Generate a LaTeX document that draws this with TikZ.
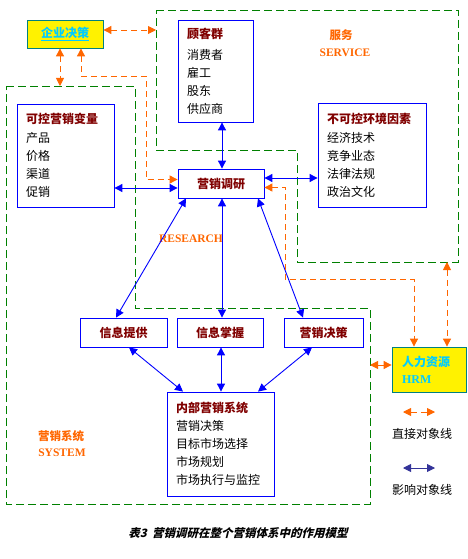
\documentclass[tikz,border=0pt]{standalone}
\usepackage{fontspec}
\setmainfont{Noto Sans CJK SC}
\newfontfamily\latinfont{Liberation Serif}
\newfontfamily\captionfont[FakeSlant=0.25]{Noto Sans CJK SC}
\usetikzlibrary{positioning,arrows.meta}
\definecolor{sysgreen}{HTML}{008000}
\definecolor{linkblue}{HTML}{0000FF}
\definecolor{directorange}{HTML}{FF6600}
\definecolor{titlered}{HTML}{800000}
\definecolor{hrcyan}{HTML}{00CCFF}
\definecolor{hrteal}{HTML}{008080}
\definecolor{legendblue}{HTML}{333399}
\newcommand\boxtitle[1]{\textcolor{titlered}{\bfseries #1}}

\begin{document}
\begin{tikzpicture}[x=1pt, y=-1pt,
    every node/.style={font=\fontsize{12}{18}\selectfont},
    listbox/.style={draw=linkblue, line width=0.8pt, inner xsep=9pt, inner ysep=0pt, align=left},
    namebox/.style={draw=linkblue, line width=0.8pt, inner sep=0pt, minimum height=29pt,
      text=titlered, font=\fontsize{12}{14}\selectfont\bfseries},
    yellowbox/.style={draw=hrteal, fill=yellow, line width=0.8pt, inner sep=0pt, text=hrcyan},
    region/.style={draw=sysgreen, line width=0.9pt, dash pattern=on 8pt off 4pt},
    influence/.style={linkblue, line width=0.9pt,
      {Triangle[length=8pt,width=8pt]}-{Triangle[length=8pt,width=8pt]}},
    direct/.style={directorange, line width=0.9pt, dash pattern=on 6pt off 4pt,
      {Triangle[length=8pt,width=8pt]}-{Triangle[length=8pt,width=8pt]}},
    areatext/.style={text=directorange, font=\fontsize{11.5}{13}\selectfont\bfseries}]
  \useasboundingbox (0,0) rectangle (467,559);

  % areas
  \draw[region] (156,10) -- (458,10) -- (458,262) -- (297,262) -- (297,150) -- (156,150) -- cycle;
  \draw[region] (6,86) -- (135,86) -- (135,308) -- (370,308) -- (370,504) -- (6,504) -- cycle;
  \coordinate (servleft) at (156,30);
  \coordinate (servbottom) at (447,262);
  \coordinate (systop) at (60,86);
  \coordinate (sysright) at (370,365);

  \node[yellowbox, minimum width=76pt, minimum height=28pt, font=\fontsize{12}{14}\selectfont\bfseries]
    (decision) at (65,34) {\underline{企业决策}};
  \node[listbox, text width=57pt, minimum height=102pt] (customers) at (215.5,71)
    {\boxtitle{顾客群}\\[3pt]消费者\\雇工\\股东\\供应商};
  \node[listbox, text width=90pt, minimum height=104pt] (environment) at (372,155)
    {\boxtitle{不可控环境因素}\\[1pt]经济技术\\竞争业态\\法律法规\\政治文化};
  \node[listbox, text width=79pt, minimum height=103pt] (variables) at (65.5,155.5)
    {\boxtitle{可控营销变量}\\[1pt]产品\\价格\\渠道\\促销};
  \node[namebox, minimum width=86pt] (research) at (221,183.5) {营销调研};
  \node[namebox, minimum width=87pt] (supply) at (123.5,332.5) {信息提供};
  \node[namebox, minimum width=86pt] (grasp) at (220,332.5) {信息掌握};
  \node[namebox, minimum width=79pt] (choice) at (323.5,332.5) {营销决策};
  \node[listbox, text width=89pt, minimum height=104pt] (internal) at (220.5,444)
    {\boxtitle{内部营销系统}\\营销决策\\目标市场选择\\市场规划\\市场执行与监控};
  \node[yellowbox, text width=54pt, inner xsep=10pt, minimum height=45pt, align=left,
    font=\fontsize{12}{17}\selectfont\bfseries] (hrm) at (429,369.5)
    {人力资源\\{\latinfont HRM}};

  \node[areatext] (service) at (341,35) {服务};
  \node[areatext] (serviceen) at (345,53) {\latinfont SERVICE};
  \node[areatext] (researchen) at (191,239) {\latinfont RESEARCH};
  \node[areatext] (system) at (61,436) {营销系统};
  \node[areatext] (systemen) at (62,453) {\latinfont SYSTEM};

  % influence
  \draw[influence] (research.north -| 222,0) -- (customers.south -| 222,0);
  \draw[influence] (variables.east |- 0,188) -- (research.west |- 0,188);
  \draw[influence] (research.east |- 0,178) -- (environment.west |- 0,178);
  \draw[influence] ([xshift=-35pt]research.south) -- ([xshift=-7.5pt]supply.north);
  \draw[influence] (research.south -| 222,0) -- (grasp.north -| 222,0);
  \draw[influence] ([xshift=37pt]research.south) -- ([xshift=-20.5pt]choice.north);
  \draw[influence] ([xshift=5.5pt]supply.south) -- ([xshift=-37.5pt]internal.north);
  \draw[influence] (grasp.south -| 221,0) -- (internal.north -| 221,0);
  \draw[influence] ([xshift=-11.5pt]choice.south) -- ([xshift=37.5pt]internal.north);

  % direct
  \draw[direct] ([yshift=4pt]decision.east) -- (servleft);
  \draw[direct] (decision.south -| systop) -- (systop);
  \draw[direct] ([xshift=16pt]decision.south) |- (146,76) |- ([yshift=4pt]research.west);
  \draw[direct] ([yshift=-4pt]research.east) -- ++(21,0) -- ++(0,92) -| ([xshift=-15pt]hrm.north);
  \draw[direct] (servbottom) -- (hrm.north -| servbottom);
  \draw[direct] (sysright) -- (hrm.west |- sysright);

  % legend
  \coordinate (directa) at (403,412);
  \coordinate (directb) at (435,412);
  \coordinate (influencea) at (403,468);
  \coordinate (influenceb) at (435,468);
  \draw[direct] (directa) -- (directb);
  \node (directtext) at (422,434) {直接对象线};
  \draw[influence, legendblue] (influencea) -- (influenceb);
  \node (influencetext) at (422,490) {影响对象线};

  \node[font=\fontsize{11.5}{13}\selectfont\captionfont\bfseries] (caption) at (238,533)
    {表3\ \ 营销调研在整个营销体系中的作用模型};
\end{tikzpicture}
\end{document}
